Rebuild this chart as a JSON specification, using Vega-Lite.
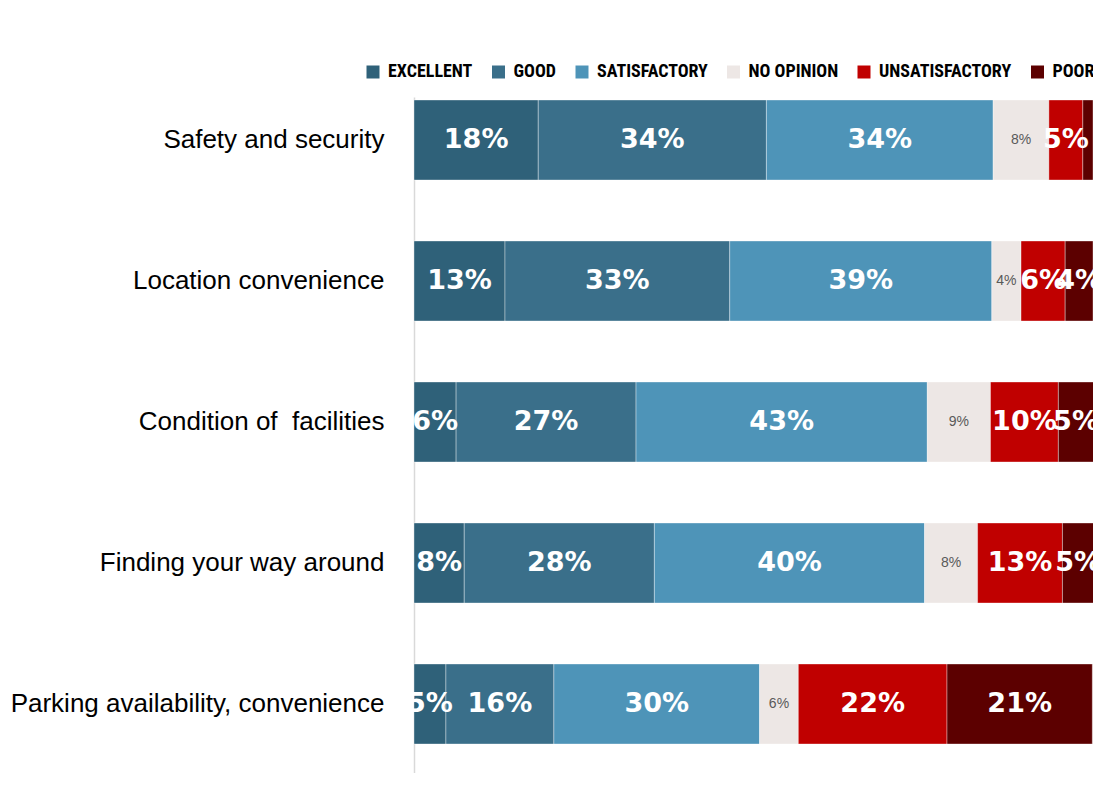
{
  "$schema": "https://vega.github.io/schema/vega-lite/v6.json",
  "autosize": {"type": "none"},
  "padding": {"left": 414, "top": 97, "right": 0, "bottom": 0},
  "width": 679,
  "height": 676,
  "background": "white",
  "config": {"view": {"stroke": null}},
  "data": {"values": [
    {"item": "Safety and security", "rating": "EXCELLENT", "value": 18.3, "label": "18%"},
    {"item": "Safety and security", "rating": "GOOD", "value": 33.6, "label": "34%"},
    {"item": "Safety and security", "rating": "SATISFACTORY", "value": 33.4, "label": "34%"},
    {"item": "Safety and security", "rating": "NO OPINION", "value": 8.2, "label": "8%"},
    {"item": "Safety and security", "rating": "UNSATISFACTORY", "value": 5.0, "label": "5%"},
    {"item": "Safety and security", "rating": "POOR", "value": 1.5, "label": ""},
    {"item": "Location convenience", "rating": "EXCELLENT", "value": 13.4, "label": "13%"},
    {"item": "Location convenience", "rating": "GOOD", "value": 33.1, "label": "33%"},
    {"item": "Location convenience", "rating": "SATISFACTORY", "value": 38.6, "label": "39%"},
    {"item": "Location convenience", "rating": "NO OPINION", "value": 4.3, "label": "4%"},
    {"item": "Location convenience", "rating": "UNSATISFACTORY", "value": 6.5, "label": "6%"},
    {"item": "Location convenience", "rating": "POOR", "value": 4.1, "label": "4%"},
    {"item": "Condition of\u00a0 facilities", "rating": "EXCELLENT", "value": 6.2, "label": "6%"},
    {"item": "Condition of\u00a0 facilities", "rating": "GOOD", "value": 26.5, "label": "27%"},
    {"item": "Condition of\u00a0 facilities", "rating": "SATISFACTORY", "value": 42.9, "label": "43%"},
    {"item": "Condition of\u00a0 facilities", "rating": "NO OPINION", "value": 9.3, "label": "9%"},
    {"item": "Condition of\u00a0 facilities", "rating": "UNSATISFACTORY", "value": 10.0, "label": "10%"},
    {"item": "Condition of\u00a0 facilities", "rating": "POOR", "value": 5.2, "label": "5%"},
    {"item": "Finding your way around", "rating": "EXCELLENT", "value": 7.4, "label": "8%"},
    {"item": "Finding your way around", "rating": "GOOD", "value": 28.0, "label": "28%"},
    {"item": "Finding your way around", "rating": "SATISFACTORY", "value": 39.8, "label": "40%"},
    {"item": "Finding your way around", "rating": "NO OPINION", "value": 7.8, "label": "8%"},
    {"item": "Finding your way around", "rating": "UNSATISFACTORY", "value": 12.5, "label": "13%"},
    {"item": "Finding your way around", "rating": "POOR", "value": 4.6, "label": "5%"},
    {"item": "Parking availability, convenience", "rating": "EXCELLENT", "value": 4.7, "label": "5%"},
    {"item": "Parking availability, convenience", "rating": "GOOD", "value": 15.9, "label": "16%"},
    {"item": "Parking availability, convenience", "rating": "SATISFACTORY", "value": 30.3, "label": "30%"},
    {"item": "Parking availability, convenience", "rating": "NO OPINION", "value": 5.7, "label": "6%"},
    {"item": "Parking availability, convenience", "rating": "UNSATISFACTORY", "value": 21.9, "label": "22%"},
    {"item": "Parking availability, convenience", "rating": "POOR", "value": 21.4, "label": "21%"}
  ]},
  "transform": [
    {"calculate": "indexof(['EXCELLENT','GOOD','SATISFACTORY','NO OPINION','UNSATISFACTORY','POOR'], datum.rating)", "as": "k"},
    {"stack": "value", "groupby": ["item"], "sort": [{"field": "k", "order": "ascending"}], "as": ["v0", "v1"]},
    {"calculate": "(datum.v0 + datum.v1) / 2", "as": "mid"}
  ],
  "encoding": {
    "y": {
      "field": "item", "type": "nominal", "sort": null, "title": null,
      "scale": {"paddingInner": 0.4326, "paddingOuter": 0.1135, "align": 0.094},
      "axis": {
        "labelFont": "Liberation Sans", "labelFontSize": 26, "labelColor": "#000000",
        "labelPadding": 30, "labelLimit": 0, "ticks": false,
        "domainColor": "#D9D9D9", "domainWidth": 1.5
      }
    }
  },
  "layer": [
    {
      "mark": {"type": "bar", "stroke": "#FFFFFF", "strokeWidth": 0.6, "strokeOpacity": 0.6},
      "encoding": {
        "x": {"field": "v0", "type": "quantitative", "scale": {"domain": [0, 100], "nice": false, "zero": true}, "axis": null},
        "x2": {"field": "v1"},
        "color": {
          "field": "rating", "type": "nominal",
          "scale": {
            "domain": ["EXCELLENT", "GOOD", "SATISFACTORY", "NO OPINION", "UNSATISFACTORY", "POOR"],
            "range": ["#2F6179", "#3A6F8A", "#4E94B8", "#EDE7E5", "#C00000", "#5C0000"]
          },
          "legend": {
            "title": null, "orient": "none", "direction": "horizontal",
            "legendX": -50, "legendY": -34,
            "symbolType": "square", "symbolSize": 169, "symbolStrokeWidth": 0,
            "labelFont": "'Roboto Condensed', 'Liberation Sans Narrow', 'Liberation Sans'", "labelFontWeight": "bold", "labelFontSize": 18,
            "labelColor": "#000000", "labelOffset": 6, "columnPadding": 16.5, "labelLimit": 0
          }
        }
      }
    },
    {
      "transform": [{"filter": "datum.rating != 'NO OPINION'"}],
      "mark": {"type": "text", "font": "DejaVu Sans", "fontWeight": "bold", "fontSize": 27, "color": "#FFFFFF", "baseline": "middle", "align": "center"},
      "encoding": {
        "x": {"field": "mid", "type": "quantitative"},
        "text": {"field": "label"}
      }
    },
    {
      "transform": [{"filter": "datum.rating == 'NO OPINION'"}],
      "mark": {"type": "text", "font": "Liberation Sans", "fontSize": 14, "color": "#595959", "baseline": "middle", "align": "center"},
      "encoding": {
        "x": {"field": "mid", "type": "quantitative"},
        "text": {"field": "label"}
      }
    }
  ]
}
